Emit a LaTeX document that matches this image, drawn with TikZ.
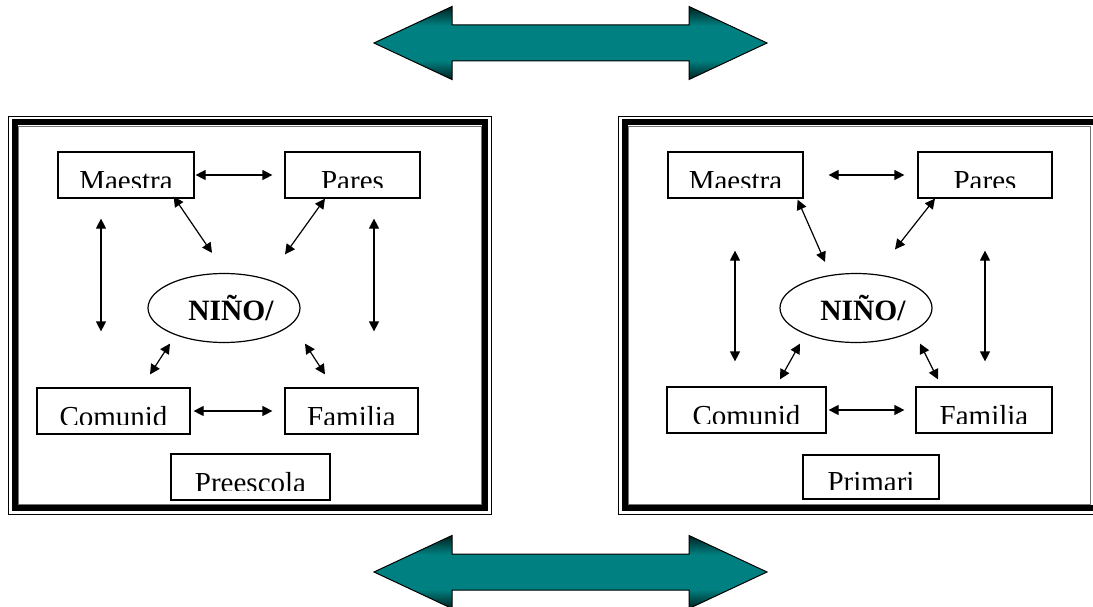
\documentclass[tikz,border=0pt]{standalone}
\usepackage{fontspec}
\setmainfont{Liberation Serif}
\usetikzlibrary{arrows.meta,shapes.geometric}
\pgfdeclareverticalshading{tealband}{100bp}{color(0bp)=(teal!25!black); color(25bp)=(teal!25!black); color(38bp)=(teal); color(62bp)=(teal); color(75bp)=(teal!25!black); color(100bp)=(teal!25!black)}
\newcommand\boxfont{\fontsize{29}{32}\selectfont}
\newcommand\kidfont{\fontsize{29.5}{32}\selectfont\bfseries}
\tikzset{
  tbox/.style={
    draw,
    line width=1.2pt,
    minimum height=46pt,
    inner sep=0pt,
    path picture={
      \clip (path picture bounding box.north west)
        rectangle ([yshift=10pt]path picture bounding box.south east);
      \node[anchor=base, inner sep=0pt, font=\boxfont]
        at ([yshift=7.5pt]path picture bounding box.south) {#1};
    }
  },
  kid/.style={
    draw,
    ellipse,
    line width=1.2pt,
    minimum width=152pt,
    minimum height=69pt,
    font=\kidfont
  },
  link/.style={{Triangle[length=10pt,width=10pt]}-{Triangle[length=10pt,width=10pt]}, line width=1.2pt},
  bigarrow/.style={draw=black, line width=1pt, shading=tealband},
  outerline/.style={line width=0.9pt},
  thickline/.style={line width=6pt},
  innerline/.style={line width=0.8pt, black!55}
}
\begin{document}
\begin{tikzpicture}[x=1pt, y=-1pt]
  \useasboundingbox (0,0) rectangle (1093,607);
  \clip (0,0) rectangle (1093,607);
  \fill[white] (0,0) rectangle (1093,607);

  % big arrows
  \foreach \yc in {43,572}
    \shadedraw[bigarrow] (374,\yc) -- (452,\yc-36.5) -- (452,\yc-18) -- (689,\yc-18)
      -- (689,\yc-36.5) -- (767,\yc) -- (689,\yc+36.5) -- (689,\yc+18)
      -- (452,\yc+18) -- (452,\yc+36.5) -- cycle;

  % frames
  \draw[outerline] (8,116) rectangle (491,514);
  \draw[thickline] (14.5,122.5) rectangle (484.5,507.5);
  \draw[innerline] (18,126) rectangle (481,504);
  \draw[outerline] (618,116) rectangle (1102,514);
  \draw[thickline] (625,122.5) rectangle (1096,507.5);
  \draw[innerline] (628.5,126) rectangle (1090.5,504);

  % preescolar
  \node[tbox=Maestra, minimum width=136pt] (maestraL) at (126,175) {};
  \node[tbox=Pares, minimum width=135pt] (paresL) at (352.5,175) {};
  \node[tbox=Comunid, minimum width=153pt] (comunidL) at (113.5,411) {};
  \node[tbox=Familia, minimum width=133pt] (familiaL) at (351.5,411) {};
  \node[tbox=Preescola, minimum width=159pt] (preescola) at (250.5,477) {};
  \node[kid] (ninoL) at (224,308) {\hspace*{14pt}NIÑO/};

  \draw[link, shorten <=1pt, shorten >=12pt] (maestraL) -- (paresL);
  \draw[link] ([shift={(-21,-2)}]maestraL.south east) -- ([shift={(-12,-20)}]ninoL.north);
  \draw[link] ([shift={(-27.5,0)}]paresL.south) -- ([shift={(61,-18.5)}]ninoL.north);
  \draw[link, shorten <=20pt, shorten >=56pt] ([xshift=-25pt]maestraL.south) -- ([xshift=-12.5pt]comunidL.north);
  \draw[link, shorten <=20pt, shorten >=56pt] ([xshift=21.5pt]paresL.south) -- ([xshift=22.5pt]familiaL.north);
  \draw[link] ([shift={(36.5,-13)}]comunidL.north) -- ([shift={(-54,0.5)}]ninoL.south);
  \draw[link] ([shift={(-26.5,-13)}]familiaL.north) -- ([shift={(81,0.5)}]ninoL.south);
  \draw[link, shorten <=3pt, shorten >=12pt] (comunidL) -- (familiaL);

  % primaria
  \node[tbox=Maestra, minimum width=135pt] (maestraR) at (735.5,175) {};
  \node[tbox=Pares, minimum width=134pt] (paresR) at (985,175) {};
  \node[tbox=Comunid, minimum width=159pt] (comunidR) at (746.5,410) {};
  \node[tbox=Familia, minimum width=136pt] (familiaR) at (984,410) {};
  \node[tbox=Primari, minimum width=136pt, minimum height=44pt] (primari) at (871,477) {};
  \node[kid] (ninoR) at (856,308) {\hspace*{14pt}NIÑO/};

  \draw[link, shorten <=25pt, shorten >=13pt] (maestraR) -- (paresR);
  \draw[link] ([shift={(-6,1)}]maestraR.south east) -- ([shift={(-31,-11)}]ninoR.north);
  \draw[link] ([shift={(-50,0)}]paresR.south) -- ([shift={(39,-23.5)}]ninoR.north);
  \draw[link, shorten <=52pt, shorten >=25pt] ([xshift=-0.5pt]maestraR.south) -- ([xshift=-11.5pt]comunidR.north);
  \draw[link, shorten <=52pt, shorten >=25pt] (paresR.south) -- ([xshift=1pt]familiaR.north);
  \draw[link] ([shift={(33.5,-7)}]comunidR.north) -- ([shift={(-56,0.5)}]ninoR.south);
  \draw[link] ([shift={(-46,-7)}]familiaR.north) -- ([shift={(64,0.5)}]ninoR.south);
  \draw[link, shorten <=2pt, shorten >=11pt] (comunidR) -- (familiaR);
\end{tikzpicture}
\end{document}
